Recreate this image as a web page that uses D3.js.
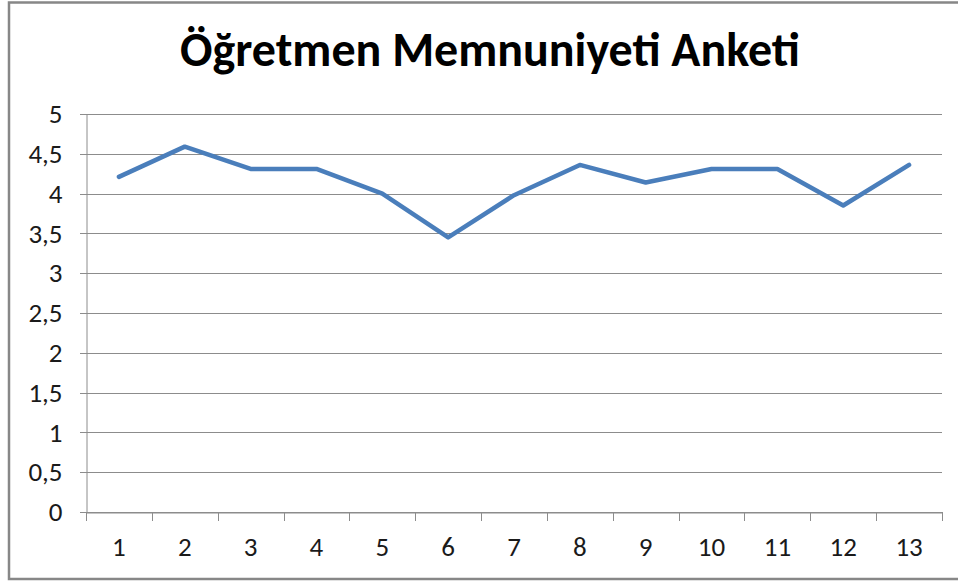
<!DOCTYPE html>
<html>
<head>
<meta charset="utf-8">
<script src="https://cdn.jsdelivr.net/npm/d3@7"></script>
<style>
  body { margin: 0; background: #fff; }
  svg { display: block; }
</style>
</head>
<body>
<script>
const title = "Öğretmen Memnuniyeti Anketi";
const categories = ["1","2","3","4","5","6","7","8","9","10","11","12","13"];
const values = [4.21, 4.59, 4.31, 4.31, 4.0, 3.45, 3.98, 4.36, 4.14, 4.31, 4.31, 3.85, 4.36];
const yTicks = [0, 0.5, 1, 1.5, 2, 2.5, 3, 3.5, 4, 4.5, 5];

const width = 958, height = 582;
const margin = {top: 114, right: 16, bottom: 70, left: 86};

const svg = d3.select("body").append("svg")
    .attr("width", width)
    .attr("height", height);

// chart frame (right edge falls outside the picture)
svg.append("rect")
    .attr("x", 9).attr("y", 2.5)
    .attr("width", 960).attr("height", 576.5)
    .attr("fill", "#fff")
    .attr("stroke", "#878787")
    .attr("stroke-width", 2.5);

const x = d3.scaleBand()
    .domain(categories)
    .range([margin.left, width - margin.right]);

const y = d3.scaleLinear()
    .domain([0, 5])
    .range([height - margin.bottom, margin.top]);

const font = "Calibri, Carlito, 'Open Sans', 'DejaVu Sans', sans-serif";

// gridlines
svg.append("g")
    .selectAll("line")
    .data(yTicks)
    .join("line")
    .attr("x1", margin.left - 6)
    .attr("x2", width - margin.right)
    .attr("y1", d => Math.round(y(d)) + 0.5)
    .attr("y2", d => Math.round(y(d)) + 0.5)
    .attr("stroke", "#8c8c8c")
    .attr("stroke-width", 1);

// y axis
const yAxis = svg.append("g")
    .attr("transform", `translate(${margin.left + 0.5},0)`)
    .call(d3.axisLeft(y).tickValues(yTicks).tickSize(0).tickPadding(24)
        .tickFormat(d => String(d).replace(".", ",")));
yAxis.select(".domain").attr("stroke", "#8c8c8c");
yAxis.selectAll("text")
    .attr("font-family", font)
    .attr("font-size", 27)
    .attr("fill", "#1a1a1a");

// x axis
const xAxis = svg.append("g")
    .attr("transform", `translate(0,${Math.round(y(0)) + 0.5})`)
    .call(d3.axisBottom(x).tickSize(0).tickPadding(24));
xAxis.select(".domain").attr("stroke", "#8c8c8c");
xAxis.selectAll("text")
    .attr("font-family", font)
    .attr("font-size", 27)
    .attr("fill", "#1a1a1a");

// tick marks between categories
const bounds = categories.map(c => x(c)).concat([x.range()[1]]);
svg.append("g")
    .selectAll("line")
    .data(bounds)
    .join("line")
    .attr("x1", d => Math.round(d) + 0.5)
    .attr("x2", d => Math.round(d) + 0.5)
    .attr("y1", Math.round(y(0)))
    .attr("y2", Math.round(y(0)) + 9)
    .attr("stroke", "#8c8c8c");

// series line
const line = d3.line()
    .x((d, i) => x(categories[i]) + x.bandwidth() / 2)
    .y(d => y(d));

svg.append("path")
    .datum(values)
    .attr("fill", "none")
    .attr("stroke", "#4a7ebb")
    .attr("stroke-width", 4.5)
    .attr("stroke-linejoin", "round")
    .attr("stroke-linecap", "round")
    .attr("d", line);

// title
svg.append("text")
    .attr("x", 490)
    .attr("y", 66)
    .attr("text-anchor", "middle")
    .attr("font-family", font)
    .attr("font-weight", "bold")
    .attr("font-size", 48)
    .attr("fill", "#000")
    .text(title);
</script>
</body>
</html>
